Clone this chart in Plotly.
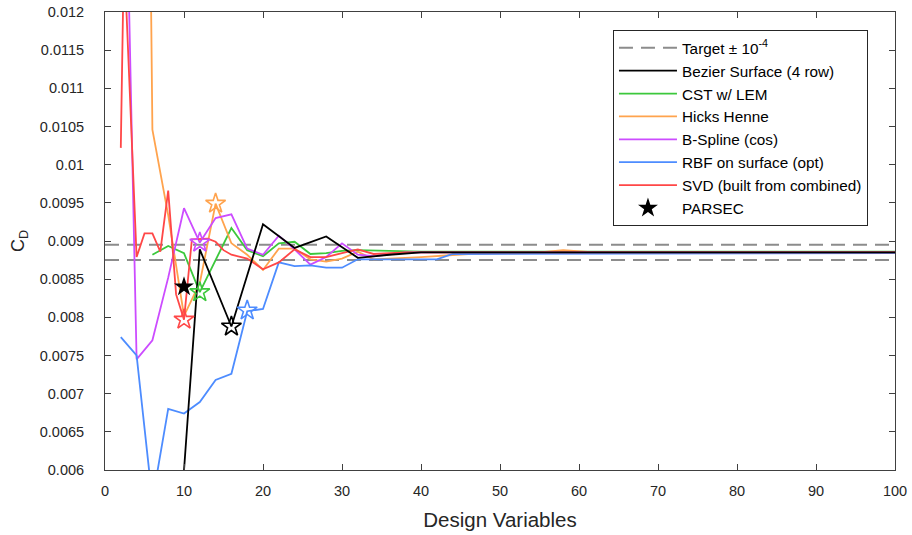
import plotly.graph_objects as go

# ---------------- data ----------------
target_cd = 0.00885
target_tol = 0.0001

bezier_x = [8, 12, 16, 20, 24, 28, 32, 36, 40, 50, 60, 70, 80, 90, 100]
bezier_y = [0.0031, 0.00889, 0.00788, 0.00922, 0.00891, 0.00906, 0.00878, 0.00882,
            0.00885, 0.00885, 0.00885, 0.00885, 0.00885, 0.00885, 0.00885]

cst_x = [6, 8, 10, 12, 16, 18, 20, 22, 24, 26, 28, 30, 32, 36, 40, 60, 100]
cst_y = [0.00882, 0.008935, 0.00884, 0.00833, 0.00917, 0.00888, 0.0088, 0.00897,
         0.00899, 0.00883, 0.00884, 0.00887, 0.00888, 0.00887, 0.00886, 0.00886, 0.00886]

hicks_x = [4, 6, 8, 10, 12, 14, 16, 18, 20, 22, 24, 26, 28, 30, 32, 34, 40, 46, 54, 58, 62, 100]
hicks_y = [0.03, 0.01046, 0.00934, 0.00802, 0.00845, 0.00949, 0.00897, 0.00882, 0.00862,
           0.0089, 0.0089, 0.00876, 0.00873, 0.00877, 0.00886, 0.00876, 0.00879, 0.00883,
           0.00884, 0.00888, 0.00885, 0.00885]

bspline_x = [3, 4, 6, 8, 10, 12, 14, 16, 18, 20, 22, 24, 26, 28, 30, 32, 34, 38, 100]
bspline_y = [0.0123, 0.00745, 0.0077, 0.00852, 0.00943, 0.00898, 0.0093, 0.00935, 0.0089,
             0.00882, 0.00907, 0.00889, 0.00869, 0.00879, 0.00897, 0.00882, 0.0088,
             0.00885, 0.00885]

rbf_x = [2, 4, 6, 8, 10, 12, 14, 16, 18, 20, 22, 24, 26, 28, 30, 32, 42, 44, 100]
rbf_y = [0.00774, 0.0075, 0.0056, 0.0068, 0.00674, 0.00689, 0.00718, 0.00726, 0.00808,
         0.00811, 0.00872, 0.00867, 0.00868, 0.00865, 0.00865, 0.00876, 0.00876,
         0.00883, 0.00884]

svd_x = [2, 2.4, 4, 5, 6, 7, 8, 9, 10, 11, 13, 14, 15, 16, 18, 20, 22, 24, 26, 28, 30,
         32, 34, 38, 100]
svd_y = [0.01022, 0.0128, 0.00879, 0.0091, 0.0091, 0.00886, 0.00966, 0.0083, 0.00797,
         0.00902, 0.00903, 0.00899, 0.00888, 0.00882, 0.00877, 0.00863, 0.00872, 0.00889,
         0.00879, 0.00879, 0.00884, 0.00889, 0.00883, 0.00885, 0.00885]

# selected designs (hollow stars), one per method
sel_x = {"bezier": 16, "cst": 12, "hicks": 14, "bspline": 12, "rbf": 18, "svd": 10}
sel_y = {"bezier": 0.00788, "cst": 0.00833, "hicks": 0.00949, "bspline": 0.00898,
         "rbf": 0.00809, "svd": 0.00797}

parsec_x = [10]
parsec_y = [0.0084]

x_ticks = [0, 10, 20, 30, 40, 50, 60, 70, 80, 90, 100]
y_ticks = [0.006, 0.0065, 0.007, 0.0075, 0.008, 0.0085, 0.009, 0.0095, 0.01,
           0.0105, 0.011, 0.0115, 0.012]
y_tick_text = ["0.006", "0.0065", "0.007", "0.0075", "0.008", "0.0085", "0.009",
               "0.0095", "0.01", "0.0105", "0.011", "0.0115", "0.012"]

# ---------------- styles ----------------
colors = {
    "bezier": "#000000",
    "cst": "#3cc83c",
    "hicks": "#ffa34d",
    "bspline": "#cc4cff",
    "rbf": "#4d8cff",
    "svd": "#ff4747",
}
names = {
    "bezier": "Bezier Surface (4 row)",
    "cst": "CST w/ LEM",
    "hicks": "Hicks Henne",
    "bspline": "B-Spline (cos)",
    "rbf": "RBF on surface (opt)",
    "svd": "SVD (built from combined)",
}
series = {
    "bezier": (bezier_x, bezier_y),
    "cst": (cst_x, cst_y),
    "hicks": (hicks_x, hicks_y),
    "bspline": (bspline_x, bspline_y),
    "rbf": (rbf_x, rbf_y),
    "svd": (svd_x, svd_y),
}
rank = {"bezier": 2, "cst": 3, "hicks": 4, "bspline": 5, "rbf": 6, "svd": 7}

FONT = "Liberation Sans, Arial, Helvetica, sans-serif"
fig = go.Figure()

fig.add_trace(go.Scatter(
    x=[0, 100, None, 0, 100],
    y=[target_cd + target_tol, target_cd + target_tol, None,
       target_cd - target_tol, target_cd - target_tol],
    mode="lines", name="Target \u00b1 10<sup>-4</sup>",
    line=dict(color="#8c8c8c", width=2, dash="14px,8px"),
    legendrank=1, hoverinfo="skip"))

draw_order = ["cst", "hicks", "bspline", "rbf", "svd", "bezier"]
for key in draw_order:
    xs, ys = series[key]
    fig.add_trace(go.Scatter(
        x=xs, y=ys, mode="lines", name=names[key],
        line=dict(color=colors[key], width=1.8),
        legendrank=rank[key]))

for key in draw_order:
    fig.add_trace(go.Scatter(
        x=[sel_x[key]], y=[sel_y[key]], mode="markers", showlegend=False,
        marker=dict(symbol="star-open", size=15, color=colors[key],
                    line=dict(width=1.6, color=colors[key]))))

fig.add_trace(go.Scatter(
    x=parsec_x, y=parsec_y, mode="markers", name="PARSEC",
    marker=dict(symbol="star", size=15, color="#000000"),
    legendrank=8))

axis_common = dict(
    showline=True, linecolor="#404040", linewidth=1, mirror="ticks",
    ticks="inside", ticklen=6, tickcolor="#404040", showgrid=False, zeroline=False,
    tickfont=dict(family=FONT, size=14.5, color="#262626"), automargin=False,
    ticklabeloverflow="allow",
)

fig.update_layout(
    width=912, height=535,
    margin=dict(l=105, r=17, t=12, b=65),
    plot_bgcolor="white", paper_bgcolor="white",
    font=dict(family=FONT, color="#262626"),
    xaxis=dict(range=[0, 100], tickvals=x_ticks, ticktext=[str(v) for v in x_ticks],
               title=dict(text="Design Variables", font=dict(family=FONT, size=20.5),
                          standoff=14),
               ticklabelstandoff=8, **axis_common),
    yaxis=dict(range=[0.006, 0.012], tickvals=y_ticks, ticktext=y_tick_text,
               title=dict(text="C<sub>D</sub>", font=dict(family=FONT, size=18),
                          standoff=10),
               ticklabelstandoff=17, **axis_common),
    legend=dict(x=0.643, y=0.96, xanchor="left", yanchor="top",
                bgcolor="white", bordercolor="#262626", borderwidth=1,
                font=dict(family=FONT, size=15.3, color="#000000"),
                itemwidth=58, tracegroupgap=0),
    showlegend=True,
)

# remove the default page margin so the figure sits at the window origin
fig.write_html("out.html",
               config={"displayModeBar": False},
               post_script="document.body.style.margin='0';document.body.style.overflow='hidden';")
